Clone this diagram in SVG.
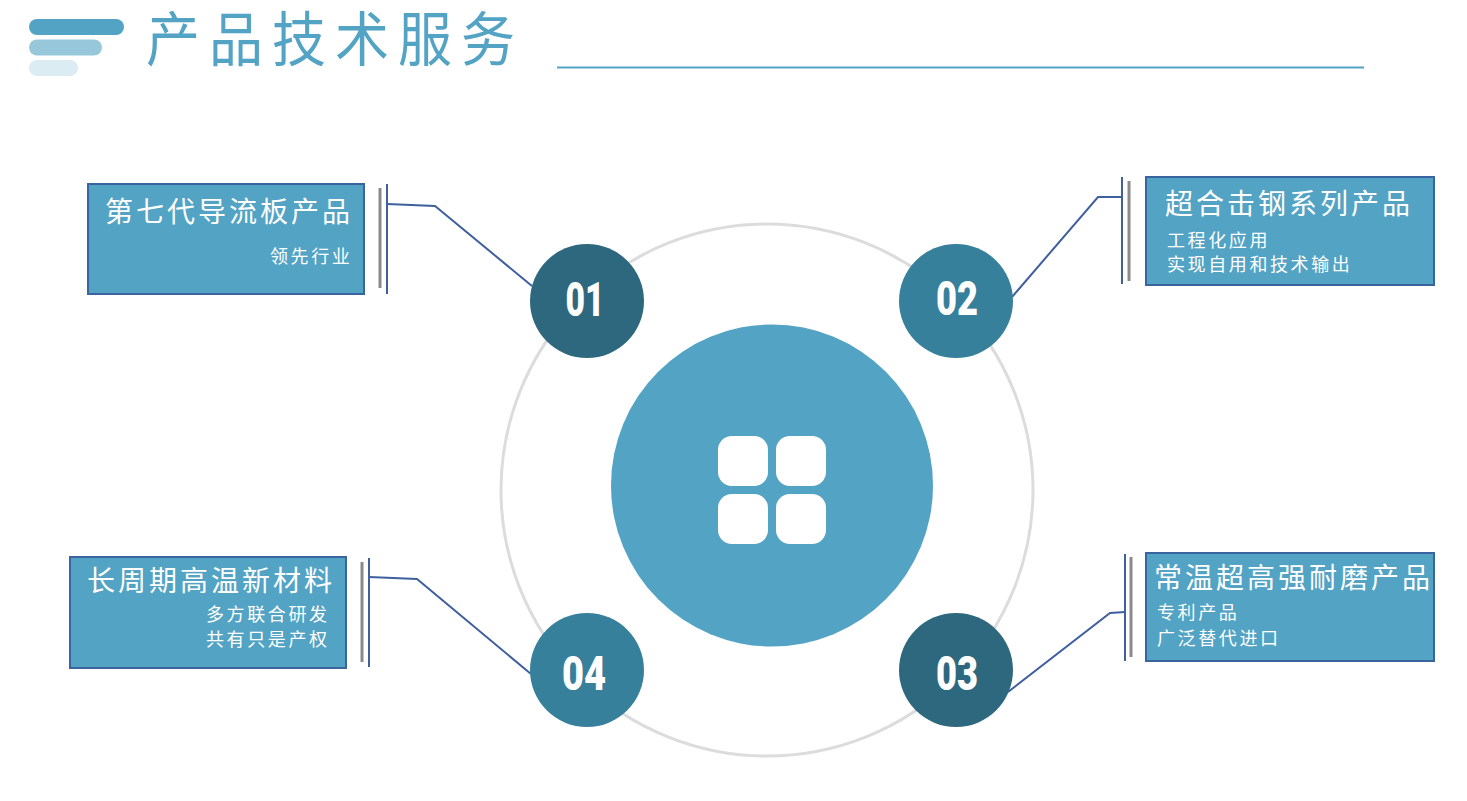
<svg xmlns="http://www.w3.org/2000/svg" width="1467" height="801" viewBox="0 0 1467 801">
<style>
text{font-family:"Liberation Sans","Noto Sans CJK SC",sans-serif;fill:#fff}
.box{fill:#52a3c4;stroke:#3a64a0;stroke-width:2}
.h{font-size:28px;letter-spacing:3px}
.s{font-size:18px;letter-spacing:2.600px}
.g{stroke:#8a8a8a;stroke-width:3;fill:none}
.b{stroke:#3f5f9f;stroke-width:2;fill:none}
.n{font-family:"Roboto","Liberation Sans",sans-serif;font-weight:900;font-size:48px;text-anchor:middle}
.t{fill:#fff}
</style>
<rect width="1467" height="801" fill="#fff"/>
<g id="header">
<rect x="29" y="19" width="95" height="16" rx="8" fill="#52a3c4"/>
<rect x="29" y="39.500" width="73" height="16" rx="8" fill="#97c7db"/>
<rect x="29" y="60" width="49" height="16" rx="8" fill="#dcecf3"/>
<text transform="translate(146 61) scale(1 1.1)" style="font-size:54px;letter-spacing:9px;fill:#52a3c4">产品技术服务</text>
<line x1="557" y1="67.500" x2="1364" y2="67.500" stroke="#52a3c4" stroke-width="2"/>
</g>
<circle cx="767" cy="490" r="266" fill="none" stroke="#dcdcdc" stroke-width="3"/>
<g id="connectors">
<path class="b" d="M387 204L435 206L532 286"/>
<path class="b" d="M1122 197H1098L1012 297"/>
<path class="b" d="M1125 612L1110 613L1008 692"/>
<path class="b" d="M369 577L417 579L531 674"/>
</g>
<g id="center">
<circle cx="772" cy="485.500" r="161" fill="#52a3c4"/>
<rect class="t" x="718" y="436" width="50" height="50" rx="14"/>
<rect class="t" x="776" y="436" width="50" height="50" rx="14"/>
<rect class="t" x="718" y="494" width="50" height="50" rx="14"/>
<rect class="t" x="776" y="494" width="50" height="50" rx="14"/>
</g>
<g id="n1"><circle cx="587" cy="301" r="57" fill="#2d687f"/><text class="n" x="585" y="316" textLength="39" lengthAdjust="spacingAndGlyphs">01</text></g>
<g id="n2"><circle cx="956" cy="301" r="57" fill="#37809c"/><text class="n" x="957" y="315" textLength="42" lengthAdjust="spacingAndGlyphs">02</text></g>
<g id="n3"><circle cx="956" cy="670" r="57" fill="#2d687f"/><text class="n" x="957" y="690" textLength="42" lengthAdjust="spacingAndGlyphs">03</text></g>
<g id="n4"><circle cx="587" cy="670" r="57" fill="#37809c"/><text class="n" x="584" y="690" textLength="44" lengthAdjust="spacingAndGlyphs">04</text></g>
<g id="card1">
<rect class="box" x="88" y="184" width="276" height="110"/>
<line class="g" x1="380" y1="188" x2="380" y2="288"/><line class="b" x1="387" y1="184" x2="387" y2="294"/>
<text class="h" x="105" y="222">第七代导流板产品</text>
<text class="s" x="270" y="263">领先行业</text>
</g>
<g id="card2">
<rect class="box" x="1146" y="177" width="288" height="108"/>
<line class="g" x1="1129" y1="181" x2="1129" y2="281"/><line class="b" x1="1122" y1="177" x2="1122" y2="284"/>
<text class="h" x="1165" y="214">超合击钢系列产品</text>
<text class="s" x="1167" y="247">工程化应用</text>
<text class="s" x="1167" y="271">实现自用和技术输出</text>
</g>
<g id="card3">
<rect class="box" x="1146" y="553" width="288" height="108"/>
<line class="g" x1="1131" y1="557" x2="1131" y2="657"/><line class="b" x1="1125" y1="554" x2="1125" y2="661"/>
<text class="h" x="1154" y="588">常温超高强耐磨产品</text>
<text class="s" x="1157" y="619">专利产品</text>
<text class="s" x="1157" y="645">广泛替代进口</text>
</g>
<g id="card4">
<rect class="box" x="70" y="557" width="276" height="111"/>
<line class="g" x1="362" y1="562" x2="362" y2="662"/><line class="b" x1="369" y1="558" x2="369" y2="667"/>
<text class="h" x="87" y="591">长周期高温新材料</text>
<text class="s" x="206" y="621">多方联合研发</text>
<text class="s" x="206" y="646">共有只是产权</text>
</g>
</svg>
